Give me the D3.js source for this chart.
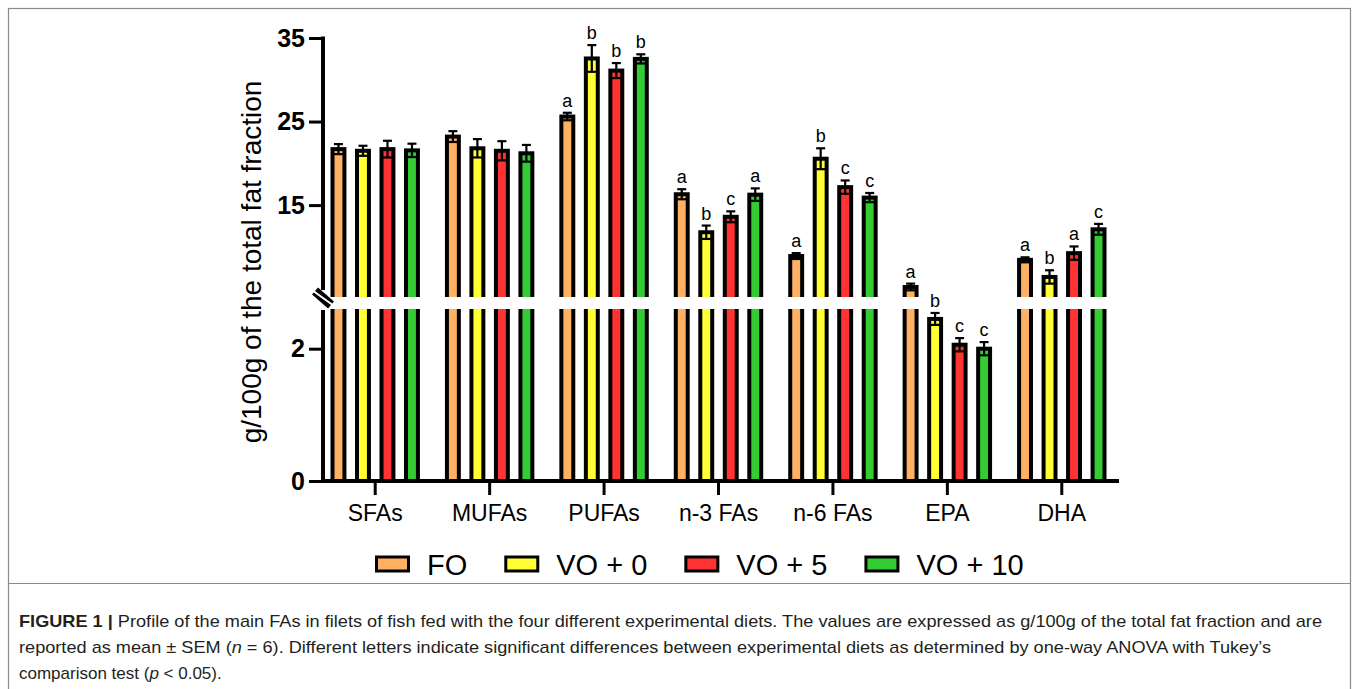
<!DOCTYPE html>
<html>
<head>
<meta charset="utf-8">
<script src="https://d3js.org/d3.v7.min.js"></script>
<style>
    body { margin: 0; background: #fff; }
    text { font-family: "Liberation Sans", Arial, sans-serif; }
</style>
</head>
<body>
<div id="chart-area"></div>
<script>
/*
*   Fatty acid profile - broken axis bar chart
*/
var categories = ["SFAs", "MUFAs", "PUFAs", "n-3 FAs", "n-6 FAs", "EPA", "DHA"];
var series = ["FO", "VO + 0", "VO + 5", "VO + 10"];
var colors = ["#FFB163", "#FFFF33", "#FF3333", "#33CC33"];

// means (g/100g) per diet
var foValues   = [21.7, 23.2, 25.6, 16.3, 8.9, 5.2, 8.45];
var vo0Values  = [21.5, 21.8, 32.55, 11.75, 20.55, 2.45, 6.4];
var vo5Values  = [21.7, 21.5, 31.1, 13.6, 17.15, 2.06, 9.25];
var vo10Values = [21.55, 21.2, 32.5, 16.25, 15.9, 2.0, 12.1];

// SEM
var foErr   = [0.6, 0.65, 0.45, 0.6, 0.35, 0.4, 0.3];
var vo0Err  = [0.6, 1.1, 1.6, 0.8, 1.25, 0.09, 0.8];
var vo5Err  = [1.0, 1.15, 0.9, 0.65, 0.8, 0.1, 0.8];
var vo10Err = [0.8, 1.0, 0.55, 0.75, 0.55, 0.1, 0.65];

// significance letters
var foLetters   = ["", "", "a", "a", "a", "a", "a"];
var vo0Letters  = ["", "", "b", "b", "b", "b", "b"];
var vo5Letters  = ["", "", "b", "c", "c", "c", "a"];
var vo10Letters = ["", "", "b", "a", "c", "c", "c"];

var upperTicks = [15, 25, 35];
var lowerTicks = [0, 2];

var values = [foValues, vo0Values, vo5Values, vo10Values];
var errors = [foErr, vo0Err, vo5Err, vo10Err];
var letters = [foLetters, vo0Letters, vo5Letters, vo10Letters];

var bars = [];
categories.forEach(function(c, i){
    series.forEach(function(s, j){
        bars.push({cat: c, ser: s, idx: j, value: values[j][i], err: errors[j][i], letter: letters[j][i]});
    });
});

var svg = d3.select("#chart-area")
    .append("svg")
        .attr("width", 1358)
        .attr("height", 689);

// frame
svg.append("rect")
    .attr("x", 8.5).attr("y", 8.5)
    .attr("width", 1342).attr("height", 720)
    .attr("fill", "none")
    .attr("stroke", "#8a8a8a")
    .attr("stroke-width", 1.2);
svg.append("line")
    .attr("x1", 8.5).attr("x2", 1350.5)
    .attr("y1", 583.5).attr("y2", 583.5)
    .attr("stroke", "#8a8a8a")
    .attr("stroke-width", 1.2);

var axisX = 323, baseY = 481, gapTop = 297, gapBottom = 309;
var lowerMax = 2.6, upperMin = 4;

var yUp = d3.scaleLinear().domain([upperMin, 35]).range([gapTop, 38]);
var yLow = d3.scaleLinear().domain([0, lowerMax]).range([baseY, gapBottom]);
function y(v){
    return v <= lowerMax ? yLow(v) : yUp(v);
}

var x = d3.scaleBand().domain(categories).range([318, 1119]);
var xSub = d3.scaleBand().domain(series).range([-49, 49])
    .paddingInner(0.35)
    .paddingOuter(0.175);

function cx(d){
    return x(d.cat) + x.bandwidth() / 2 + xSub(d.ser) + xSub.bandwidth() / 2;
}

var g = svg.append("g");

// bars
g.selectAll("rect.bar").data(bars).enter()
    .append("rect")
        .attr("class", "bar")
        .attr("x", function(d){ return cx(d) - xSub.bandwidth() / 2 + 2; })
        .attr("y", function(d){ return y(d.value); })
        .attr("width", xSub.bandwidth() - 4)
        .attr("height", function(d){ return baseY - y(d.value); })
        .attr("fill", function(d){ return colors[d.idx]; })
        .attr("stroke", "#000")
        .attr("stroke-width", 4);

// error bars
var eb = g.selectAll("g.err").data(bars).enter()
    .append("g").attr("class", "err")
    .attr("stroke", "#000")
    .attr("stroke-width", 2.2);
eb.append("line")
    .attr("x1", cx).attr("x2", cx)
    .attr("y1", function(d){ return y(d.value + d.err); })
    .attr("y2", function(d){ return y(d.value - d.err); });
eb.append("line")
    .attr("x1", function(d){ return cx(d) - 4.5; })
    .attr("x2", function(d){ return cx(d) + 4.5; })
    .attr("y1", function(d){ return y(d.value + d.err); })
    .attr("y2", function(d){ return y(d.value + d.err); });
eb.append("line")
    .attr("x1", function(d){ return cx(d) - 4.5; })
    .attr("x2", function(d){ return cx(d) + 4.5; })
    .attr("y1", function(d){ return y(d.value - d.err); })
    .attr("y2", function(d){ return y(d.value - d.err); });

// axis break band
g.append("rect")
    .attr("x", axisX + 3).attr("y", gapTop)
    .attr("width", 800).attr("height", gapBottom - gapTop)
    .attr("fill", "#fff");

// letters (drawn over the break band)
g.selectAll("text.letter").data(bars.filter(function(d){ return d.letter; })).enter()
    .append("text")
        .attr("class", "letter")
        .attr("x", cx)
        .attr("y", function(d){ return y(d.value + d.err) - 6; })
        .attr("text-anchor", "middle")
        .attr("font-size", "18px")
        .text(function(d){ return d.letter; });

// y axes
function styleAxis(sel){
    sel.select(".domain").remove();
    sel.selectAll(".tick line").attr("stroke-width", 3);
    sel.selectAll(".tick text")
        .attr("font-size", "25px")
        .attr("font-weight", "bold")
        .attr("fill", "#000");
}
var upAxis = g.append("g")
    .attr("transform", "translate(" + axisX + ",0)")
    .call(d3.axisLeft(yUp).tickValues(upperTicks).tickFormat(d3.format("d")).tickSize(14).tickPadding(4));
styleAxis(upAxis);
var lowAxis = g.append("g")
    .attr("transform", "translate(" + axisX + ",0)")
    .call(d3.axisLeft(yLow).tickValues(lowerTicks).tickFormat(d3.format("d")).tickSize(14).tickPadding(4));
styleAxis(lowAxis);

g.append("line")
    .attr("x1", axisX).attr("x2", axisX)
    .attr("y1", yUp(35) - 1.5).attr("y2", 290)
    .attr("stroke", "#000").attr("stroke-width", 4);
g.append("line")
    .attr("x1", axisX).attr("x2", axisX)
    .attr("y1", 310).attr("y2", baseY + 2)
    .attr("stroke", "#000").attr("stroke-width", 4);

// break marks
g.append("line")
    .attr("x1", 315).attr("y1", 291).attr("x2", 331).attr("y2", 305)
    .attr("stroke", "#000").attr("stroke-width", 9);
g.append("line")
    .attr("x1", 314).attr("y1", 291.5).attr("x2", 332).attr("y2", 304.5)
    .attr("stroke", "#fff").attr("stroke-width", 2);

// x axis
var xAxisGroup = g.append("g")
    .attr("transform", "translate(0," + baseY + ")")
    .call(d3.axisBottom(x).tickSize(14).tickPadding(10));
xAxisGroup.select(".domain").remove();
xAxisGroup.selectAll(".tick line").attr("stroke-width", 3);
xAxisGroup.selectAll(".tick text")
    .attr("font-size", "23px")
    .attr("fill", "#000");
g.append("line")
    .attr("x1", axisX - 2).attr("x2", 1119)
    .attr("y1", baseY).attr("y2", baseY)
    .attr("stroke", "#000").attr("stroke-width", 4);

// Y Label
g.append("text")
    .attr("transform", "translate(261,262) rotate(-90)")
    .attr("text-anchor", "middle")
    .attr("font-size", "28px")
    .text("g/100g of the total fat fraction");

// legend
var legend = g.append("g").attr("transform", "translate(0,564)");
var lx = 375;
series.forEach(function(s, i){
    legend.append("rect")
        .attr("x", lx + 1.5).attr("y", -7)
        .attr("width", 32).attr("height", 14)
        .attr("fill", colors[i])
        .attr("stroke", "#000")
        .attr("stroke-width", 3);
    var t = legend.append("text")
        .attr("x", lx + 52)
        .attr("y", 11)
        .attr("font-size", "29px")
        .text(s);
    lx = lx + 52 + t.node().getComputedTextLength() + 37;
});

// caption
var cap = svg.append("g").attr("fill", "#231f20").attr("font-size", "17px");
var l1 = cap.append("text").attr("x", 19).attr("y", 627)
    .attr("textLength", 1303).attr("lengthAdjust", "spacingAndGlyphs");
l1.append("tspan").attr("font-weight", "bold").text("FIGURE 1 | ");
l1.append("tspan").text("Profile of the main FAs in filets of fish fed with the four different experimental diets. The values are expressed as g/100g of the total fat fraction and are");
var l2 = cap.append("text").attr("x", 19).attr("y", 653)
    .attr("textLength", 1252).attr("lengthAdjust", "spacingAndGlyphs");
l2.append("tspan").text("reported as mean \u00B1 SEM (");
l2.append("tspan").attr("font-style", "italic").text("n");
l2.append("tspan").text(" = 6). Different letters indicate significant differences between experimental diets as determined by one-way ANOVA with Tukey\u2019s");
var l3 = cap.append("text").attr("x", 19).attr("y", 679);
l3.append("tspan").text("comparison test (");
l3.append("tspan").attr("font-style", "italic").text("p");
l3.append("tspan").text(" < 0.05).");
</script>
</body>
</html>
